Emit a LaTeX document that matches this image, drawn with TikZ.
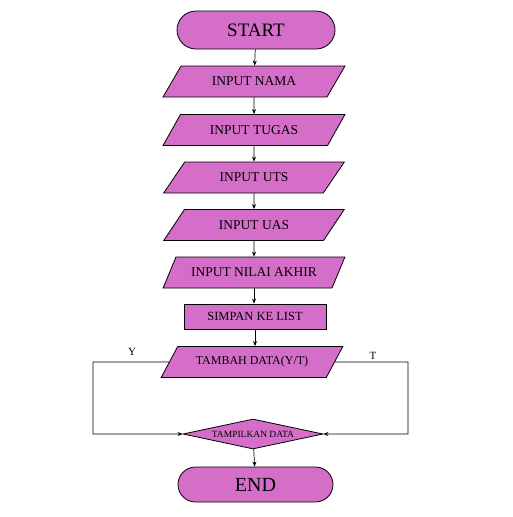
\documentclass[tikz,border=0pt]{standalone}
\usepackage{fontspec}
\setmainfont{Liberation Serif}
\usetikzlibrary{shapes.geometric,shapes.misc,arrows.meta}
\definecolor{boxfill}{RGB}{213,110,200}
\begin{document}
\begin{tikzpicture}[x=1pt,y=-1pt,
  base/.style={draw=black, line width=0.8pt, fill=boxfill, inner sep=0pt, text=black},
  term/.style={base, rounded rectangle, minimum width=158pt, minimum height=38pt, font=\fontsize{19}{19}\selectfont},
  para/.style={base, trapezium, trapezium left angle=41, trapezium right angle=139, trapezium stretches=true, minimum width=182pt, minimum height=31pt, font=\fontsize{13.5}{13.5}\selectfont},
  procbox/.style={base, rectangle, minimum width=142pt, minimum height=25pt, font=\fontsize{12.5}{12.5}\selectfont},
  decis/.style={base, diamond, aspect=4.6, minimum width=140pt, minimum height=30pt, font=\fontsize{9.5}{9.5}\selectfont},
  conn/.style={draw=black, line width=0.7pt, -{Stealth[length=5pt,width=4pt]}},
  lbl/.style={font=\fontsize{11}{11}\selectfont}
]
\useasboundingbox (0,0) rectangle (513,517);
\fill[white] (0,0) rectangle (513,517);
\node[term] (start) at (256,30) {START};
\node[para] (nama) at (254,81.5) {INPUT NAMA};
\node[para] (tugas) at (254,130) {INPUT TUGAS};
\node[para] (uts) at (254,177.5) {INPUT UTS};
\node[para] (uas) at (254,225) {INPUT UAS};
\node[para] (nilai) at (254,272.5) {INPUT NILAI AKHIR};
\node[procbox] (simpan) at (255,316.5) {SIMPAN KE LIST};
\node[para, font=\fontsize{12}{12}\selectfont] (tambah) at (252,362) {TAMBAH DATA(Y/T)};
\node[decis] (tampil) at (253,434) {TAMPILKAN DATA};
\node[term, minimum width=155pt, minimum height=35pt, font=\fontsize{20}{20}\selectfont] (end) at (255.5,484.5) {END};
\coordinate (yc1) at (93,362);
\coordinate (yc2) at (93,434);
\coordinate (tc1) at (408,362);
\coordinate (tc2) at (408,434);
\draw[conn] (start) -- (nama);
\draw[conn] (nama) -- (tugas);
\draw[conn] (tugas) -- (uts);
\draw[conn] (uts) -- (uas);
\draw[conn] (uas) -- (nilai);
\draw[conn] (nilai.south) -- (nilai.south |- simpan.north);
\draw[conn] (simpan.south) -- (simpan.south |- tambah.north);
\draw[conn] (tambah.west) -- (yc1) -- (yc2) -- (tampil.west);
\draw[conn] (tambah.east) -- (tc1) -- (tc2) -- (tampil.east);
\draw[conn] (tampil) -- (end);
\node[lbl] (ylab) at (132,352) {Y};
\node[lbl] (tlab) at (373,356) {T};
\end{tikzpicture}
\end{document}
